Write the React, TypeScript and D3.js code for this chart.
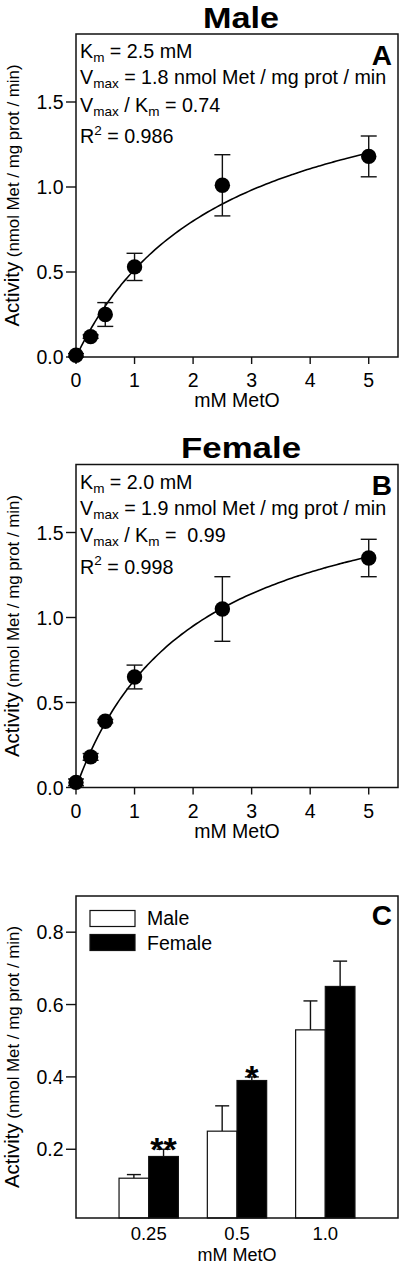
import React from 'react';
import * as d3 from 'd3';

// ---------- data ----------
const concentrations = [0, 0.25, 0.5, 1, 2.5, 5];
const maleActivity = [0.01, 0.12, 0.25, 0.53, 1.01, 1.18];
const maleSem = [0.01, 0.01, 0.07, 0.08, 0.18, 0.12];
const femaleActivity = [0.03, 0.18, 0.39, 0.65, 1.05, 1.35];
const femaleSem = [0.02, 0.02, 0.01, 0.07, 0.19, 0.11];
const maleKm = 2.5;
const maleVmax = 1.8;
const femaleKm = 2.0;
const femaleVmax = 1.9;
const kineticXTicks = [0, 1, 2, 3, 4, 5];
const kineticYTicks = [0, 0.5, 1.0, 1.5];

const barGroups = ['0.25', '0.5', '1.0'];
const barSeries = ['Male', 'Female'];
const barMale = [0.12, 0.25, 0.53];
const barMaleErr = [0.01, 0.07, 0.08];
const barFemale = [0.18, 0.39, 0.65];
const barFemaleErr = [0.02, 0.01, 0.07];
const barSignificance = ['**', '*', ''];
const barYTicks = [0.2, 0.4, 0.6, 0.8];

type Seg = { t: string; sub?: boolean; sup?: boolean };
const maleLines: Seg[][] = [
  [{ t: 'K' }, { t: 'm', sub: true }, { t: ' = 2.5 mM' }],
  [{ t: 'V' }, { t: 'max', sub: true }, { t: ' = 1.8 nmol Met / mg prot / min' }],
  [{ t: 'V' }, { t: 'max', sub: true }, { t: ' / K' }, { t: 'm', sub: true }, { t: ' = 0.74' }],
  [{ t: 'R' }, { t: '2', sup: true }, { t: ' = 0.986' }],
];
const femaleLines: Seg[][] = [
  [{ t: 'K' }, { t: 'm', sub: true }, { t: ' = 2.0 mM' }],
  [{ t: 'V' }, { t: 'max', sub: true }, { t: ' = 1.9 nmol Met / mg prot / min' }],
  [{ t: 'V' }, { t: 'max', sub: true }, { t: ' / K' }, { t: 'm', sub: true }, { t: ' =  0.99' }],
  [{ t: 'R' }, { t: '2', sup: true }, { t: ' = 0.998' }],
];

const FONT = "'Liberation Sans', Arial, Helvetica, sans-serif";
const LEFT = 76;
const RIGHT = 398;
const PLOT_H = 323;
const LINE_OFFSETS = [24.3, 50.4, 77.5, 109];
const TICK_FS = 19.5;

function AnnotLine({ segs, x, y }: { segs: Seg[]; x: number; y: number }) {
  let shift = 0;
  const spans = segs.map((s, i) => {
    let target = 0;
    if (s.sub) target = 4;
    if (s.sup) target = -8.5;
    const dy = target - shift;
    shift = target;
    return (
      <tspan key={i} dy={dy} fontSize={s.sub || s.sup ? 13.5 : 19.7}>
        {s.t}
      </tspan>
    );
  });
  return (
    <text x={x} y={y} fontFamily={FONT} fontSize={19.7} fill="#000" style={{ whiteSpace: 'pre' }}>
      {spans}
    </text>
  );
}

function YLabel({ cy }: { cy: number }) {
  return (
    <text
      transform={`translate(18.5,${cy}) rotate(-90)`}
      textAnchor="middle"
      fontFamily={FONT}
      fill="#000"
      textLength={262}
      lengthAdjust="spacingAndGlyphs"
    >
      <tspan fontSize={20}>Activity</tspan>
      <tspan fontSize={16.5}> (nmol Met / mg prot / min)</tspan>
    </text>
  );
}

function KineticPanel({
  top,
  title,
  titleWidth,
  letter,
  lines,
  act,
  sem,
  km,
  vmax,
}: {
  top: number;
  title: string;
  titleWidth: number;
  letter: string;
  lines: Seg[][];
  act: number[];
  sem: number[];
  km: number;
  vmax: number;
}) {
  const bottom = top + PLOT_H;
  const x = d3.scaleLinear().domain([0, 5.5]).range([LEFT, RIGHT]);
  const y = d3.scaleLinear().domain([0, 1.9]).range([bottom, top]);
  const curvePts: [number, number][] = d3.range(0, 5.0001, 0.05).map((c) => [c, (vmax * c) / (km + c)]);
  const line = d3
    .line<[number, number]>()
    .x((d) => x(d[0]))
    .y((d) => y(d[1]))
    .curve(d3.curveMonotoneX);
  const fmt = d3.format('.1f');
  const capHalf = 8;
  return (
    <g>
      <text
        x={241}
        y={top - 6.5}
        textAnchor="middle"
        fontFamily={FONT}
        fontWeight="bold"
        fontSize={30}
        fill="#000"
        textLength={titleWidth}
        lengthAdjust="spacingAndGlyphs"
      >
        {title}
      </text>
      <rect x={LEFT} y={top} width={RIGHT - LEFT} height={PLOT_H} fill="none" stroke="#111" strokeWidth={1.5} />
      {kineticYTicks.map((t) => (
        <g key={'y' + t}>
          <line x1={LEFT - 10} x2={LEFT} y1={y(t)} y2={y(t)} stroke="#111" strokeWidth={1.4} />
          <text x={63.5} y={y(t)} dy="0.36em" textAnchor="end" fontFamily={FONT} fontSize={TICK_FS} fill="#000">
            {fmt(t)}
          </text>
        </g>
      ))}
      {kineticXTicks.map((t) => (
        <g key={'x' + t}>
          <line x1={x(t)} x2={x(t)} y1={bottom} y2={bottom + 7} stroke="#111" strokeWidth={1.4} />
          <text x={x(t)} y={bottom + 30} textAnchor="middle" fontFamily={FONT} fontSize={TICK_FS} fill="#000">
            {t}
          </text>
        </g>
      ))}
      <text x={(LEFT + RIGHT) / 2} y={bottom + 50} textAnchor="middle" fontFamily={FONT} fontSize={19.5} fill="#000">
        mM MetO
      </text>
      <YLabel cy={top + PLOT_H / 2} />
      {lines.map((segs, i) => (
        <AnnotLine key={i} segs={segs} x={80} y={top + LINE_OFFSETS[i]} />
      ))}
      <text x={392} y={top + 30.5} textAnchor="end" fontFamily={FONT} fontWeight="bold" fontSize={28} fill="#000">
        {letter}
      </text>
      <path d={line(curvePts) || ''} fill="none" stroke="#000" strokeWidth={1.6} />
      {concentrations.map((c, i) => {
        const cx = x(c);
        const hi = y(act[i] + sem[i]);
        const lo = y(act[i] - sem[i]);
        return (
          <g key={'e' + i} stroke="#111" strokeWidth={1.4}>
            <line x1={cx} x2={cx} y1={hi} y2={lo} />
            <line x1={cx - capHalf} x2={cx + capHalf} y1={hi} y2={hi} />
            <line x1={cx - capHalf} x2={cx + capHalf} y1={lo} y2={lo} />
          </g>
        );
      })}
      {concentrations.map((c, i) => (
        <circle key={'p' + i} cx={x(c)} cy={y(act[i])} r={7.7} fill="#000" />
      ))}
    </g>
  );
}

function BarPanel({ top }: { top: number }) {
  const bottom = top + 322;
  const y = d3.scaleLinear().domain([0.01, 0.9]).range([bottom, top]);
  const x0 = d3.scaleBand<string>().domain(barGroups).range([LEFT, RIGHT]).paddingInner(0.328).paddingOuter(0.4875);
  const x1 = d3.scaleBand<string>().domain(barSeries).range([0, x0.bandwidth()]);
  const vals: Record<string, number[]> = { Male: barMale, Female: barFemale };
  const errs: Record<string, number[]> = { Male: barMaleErr, Female: barFemaleErr };
  const fills: Record<string, string> = { Male: '#fff', Female: '#000' };
  const fmt = d3.format('.1f');
  const capHalf = 7;
  return (
    <g>
      {barGroups.map((g, gi) =>
        barSeries.map((s) => {
          const bx = (x0(g) as number) + (x1(s) as number);
          const bw = x1.bandwidth();
          const v = vals[s][gi];
          const e = errs[s][gi];
          const cx = bx + bw / 2;
          return (
            <g key={g + s}>
              <line x1={cx} x2={cx} y1={y(v)} y2={y(v + e)} stroke="#111" strokeWidth={1.4} />
              <line x1={cx - capHalf} x2={cx + capHalf} y1={y(v + e)} y2={y(v + e)} stroke="#111" strokeWidth={1.4} />
              <rect x={bx} y={y(v)} width={bw} height={bottom - y(v)} fill={fills[s]} stroke="#111" strokeWidth={1.2} />
            </g>
          );
        })
      )}
      {barGroups.map((g, gi) => {
        const mark = barSignificance[gi];
        if (!mark) return null;
        const cx = (x0(g) as number) + (x1('Female') as number) + x1.bandwidth() / 2;
        return (
          <text
            key={'s' + g}
            x={cx}
            y={y(barFemale[gi] + barFemaleErr[gi]) + 12}
            textAnchor="middle"
            fontFamily={FONT}
            fontWeight="bold"
            fontSize={34}
            fill="#000"
          >
            {mark}
          </text>
        );
      })}
      <rect x={LEFT} y={top} width={RIGHT - LEFT} height={bottom - top} fill="none" stroke="#111" strokeWidth={1.5} />
      {barYTicks.map((t) => (
        <g key={'y' + t}>
          <line x1={LEFT - 10} x2={LEFT} y1={y(t)} y2={y(t)} stroke="#111" strokeWidth={1.4} />
          <text x={63.5} y={y(t)} dy="0.36em" textAnchor="end" fontFamily={FONT} fontSize={TICK_FS} fill="#000">
            {fmt(t)}
          </text>
        </g>
      ))}
      {barGroups.map((g) => (
        <text
          key={'xl' + g}
          x={(x0(g) as number) + x0.bandwidth() / 2}
          y={bottom + 22}
          textAnchor="middle"
          fontFamily={FONT}
          fontSize={18.5}
          fill="#000"
        >
          {g}
        </text>
      ))}
      <text x={(LEFT + RIGHT) / 2} y={bottom + 42.5} textAnchor="middle" fontFamily={FONT} fontSize={18} fill="#000">
        mM MetO
      </text>
      <YLabel cy={(top + bottom) / 2} />
      {barSeries.map((s, i) => (
        <g key={'lg' + s}>
          <rect x={90} y={top + 14.5 + i * 24} width={45} height={16} fill={fills[s]} stroke="#111" strokeWidth={1.2} />
          <text x={147} y={top + 29 + i * 25} fontFamily={FONT} fontSize={19.5} fill="#000">
            {s}
          </text>
        </g>
      ))}
      <text x={392} y={top + 29} textAnchor="end" fontFamily={FONT} fontWeight="bold" fontSize={28} fill="#000">
        C
      </text>
    </g>
  );
}

export default function App() {
  return (
    <svg
      width={400}
      height={1265}
      viewBox="0 0 400 1265"
      style={{ position: 'absolute', left: 0, top: 0, display: 'block', background: '#fff' }}
    >
      <rect x={0} y={0} width={400} height={1265} fill="#fff" />
      <KineticPanel
        top={34}
        title="Male"
        titleWidth={76}
        letter="A"
        lines={maleLines}
        act={maleActivity}
        sem={maleSem}
        km={maleKm}
        vmax={maleVmax}
      />
      <KineticPanel
        top={464.5}
        title="Female"
        titleWidth={120}
        letter="B"
        lines={femaleLines}
        act={femaleActivity}
        sem={femaleSem}
        km={femaleKm}
        vmax={femaleVmax}
      />
      <BarPanel top={896} />
    </svg>
  );
}
